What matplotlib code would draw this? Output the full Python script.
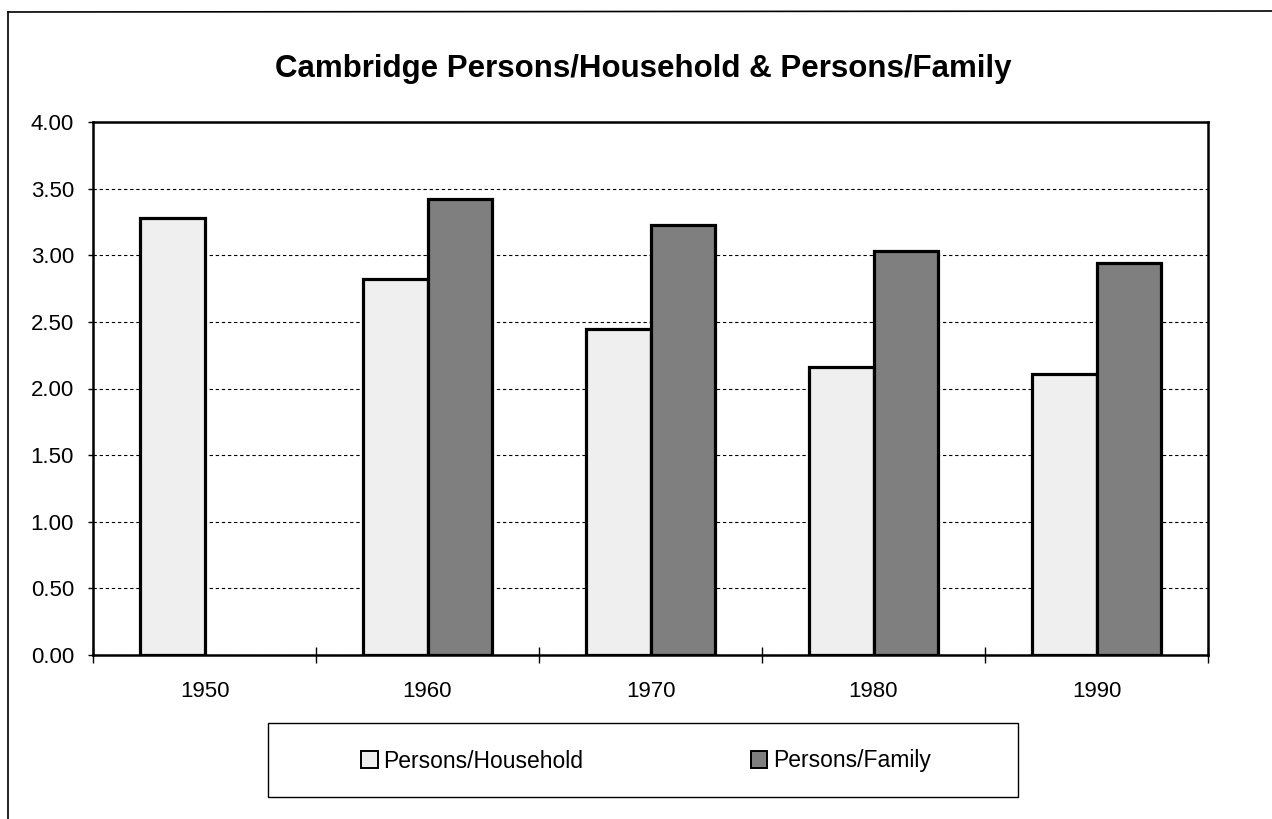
import numpy as np
import matplotlib
matplotlib.use("Agg")
import matplotlib.pyplot as plt
from matplotlib.patches import Rectangle, Patch
from matplotlib.lines import Line2D

plt.rcParams['font.family'] = ['Liberation Sans', 'DejaVu Sans']

years = ["1950", "1960", "1970", "1980", "1990"]
persons_household = [3.28, 2.82, 2.45, 2.16, 2.11]
persons_family = [np.nan, 3.42, 3.23, 3.03, 2.94]
title = "Cambridge Persons/Household & Persons/Family"
series_names = ["Persons/Household", "Persons/Family"]

W, H = 1272, 819
fig = plt.figure(figsize=(W / 100, H / 100), dpi=100)
fig.patch.set_facecolor("white")

# page frame (scanned document border)
fig.add_artist(Line2D([8 / W, 8 / W], [0, 1 - 12 / H], transform=fig.transFigure, color="black", lw=1.2))
fig.add_artist(Line2D([8 / W, 1], [1 - 12 / H, 1 - 11 / H], transform=fig.transFigure, color="black", lw=1.2))

ax = fig.add_axes([93 / W, 1 - 655 / H, (1208 - 93) / W, (655 - 122) / H])
x = np.arange(len(years))
bw = 0.287
hh_col = "#efefef"
fam_col = "#7f7f7f"

ax.bar(x - bw / 2, persons_household, width=bw, color=hh_col, edgecolor="black", linewidth=2.3, zorder=3)
fx = [xi for xi, v in zip(x, persons_family) if not np.isnan(v)]
fv = [v for v in persons_family if not np.isnan(v)]
ax.bar(np.array(fx) + bw / 2, fv, width=bw, color=fam_col, edgecolor="black", linewidth=2.3, zorder=3)

ax.set_xlim(-0.5, len(years) - 0.5)
ax.set_ylim(0, 4.0)
ax.set_yticks(np.arange(0, 4.01, 0.5))
ax.set_yticklabels([f"{v:.2f}" for v in np.arange(0, 4.01, 0.5)])
ax.yaxis.grid(True, linestyle=(0, (3, 2.5)), color="black", linewidth=0.8, zorder=0)
ax.set_axisbelow(True)

ax.set_xticks(x)
ax.set_xticklabels(years)
ax.set_xticks(np.arange(-0.5, len(years), 1.0), minor=True)
ax.tick_params(axis="x", which="major", length=0, pad=19, labelsize=16)
ax.tick_params(axis="x", which="minor", length=12, direction="inout", width=1.0)
ax.tick_params(axis="y", which="major", length=3.6, width=1.0, direction="out", pad=10, labelsize=16)

for s in ax.spines.values():
    s.set_linewidth(1.8)
    s.set_color("black")

fig.text(643 / W, 1 - 69 / H, title, ha="center", va="center", fontsize=22.5, fontweight="bold")

# legend box
fig.add_artist(Rectangle((268 / W, 1 - 797 / H), (1018 - 268) / W, (797 - 723) / H,
                         transform=fig.transFigure, facecolor="white", edgecolor="black", lw=1.0))
handles = [Patch(facecolor=hh_col, edgecolor="black", linewidth=1.4),
           Patch(facecolor=fam_col, edgecolor="black", linewidth=1.4)]
fig.legend(handles, series_names, loc="center", bbox_to_anchor=(646 / W, 1 - 761 / H),
           ncol=2, frameon=False, fontsize=16.5, handlelength=0.72, handleheight=0.7,
           handletextpad=0.25, columnspacing=7.3)

fig.savefig("out.png", dpi=100, facecolor="white")
